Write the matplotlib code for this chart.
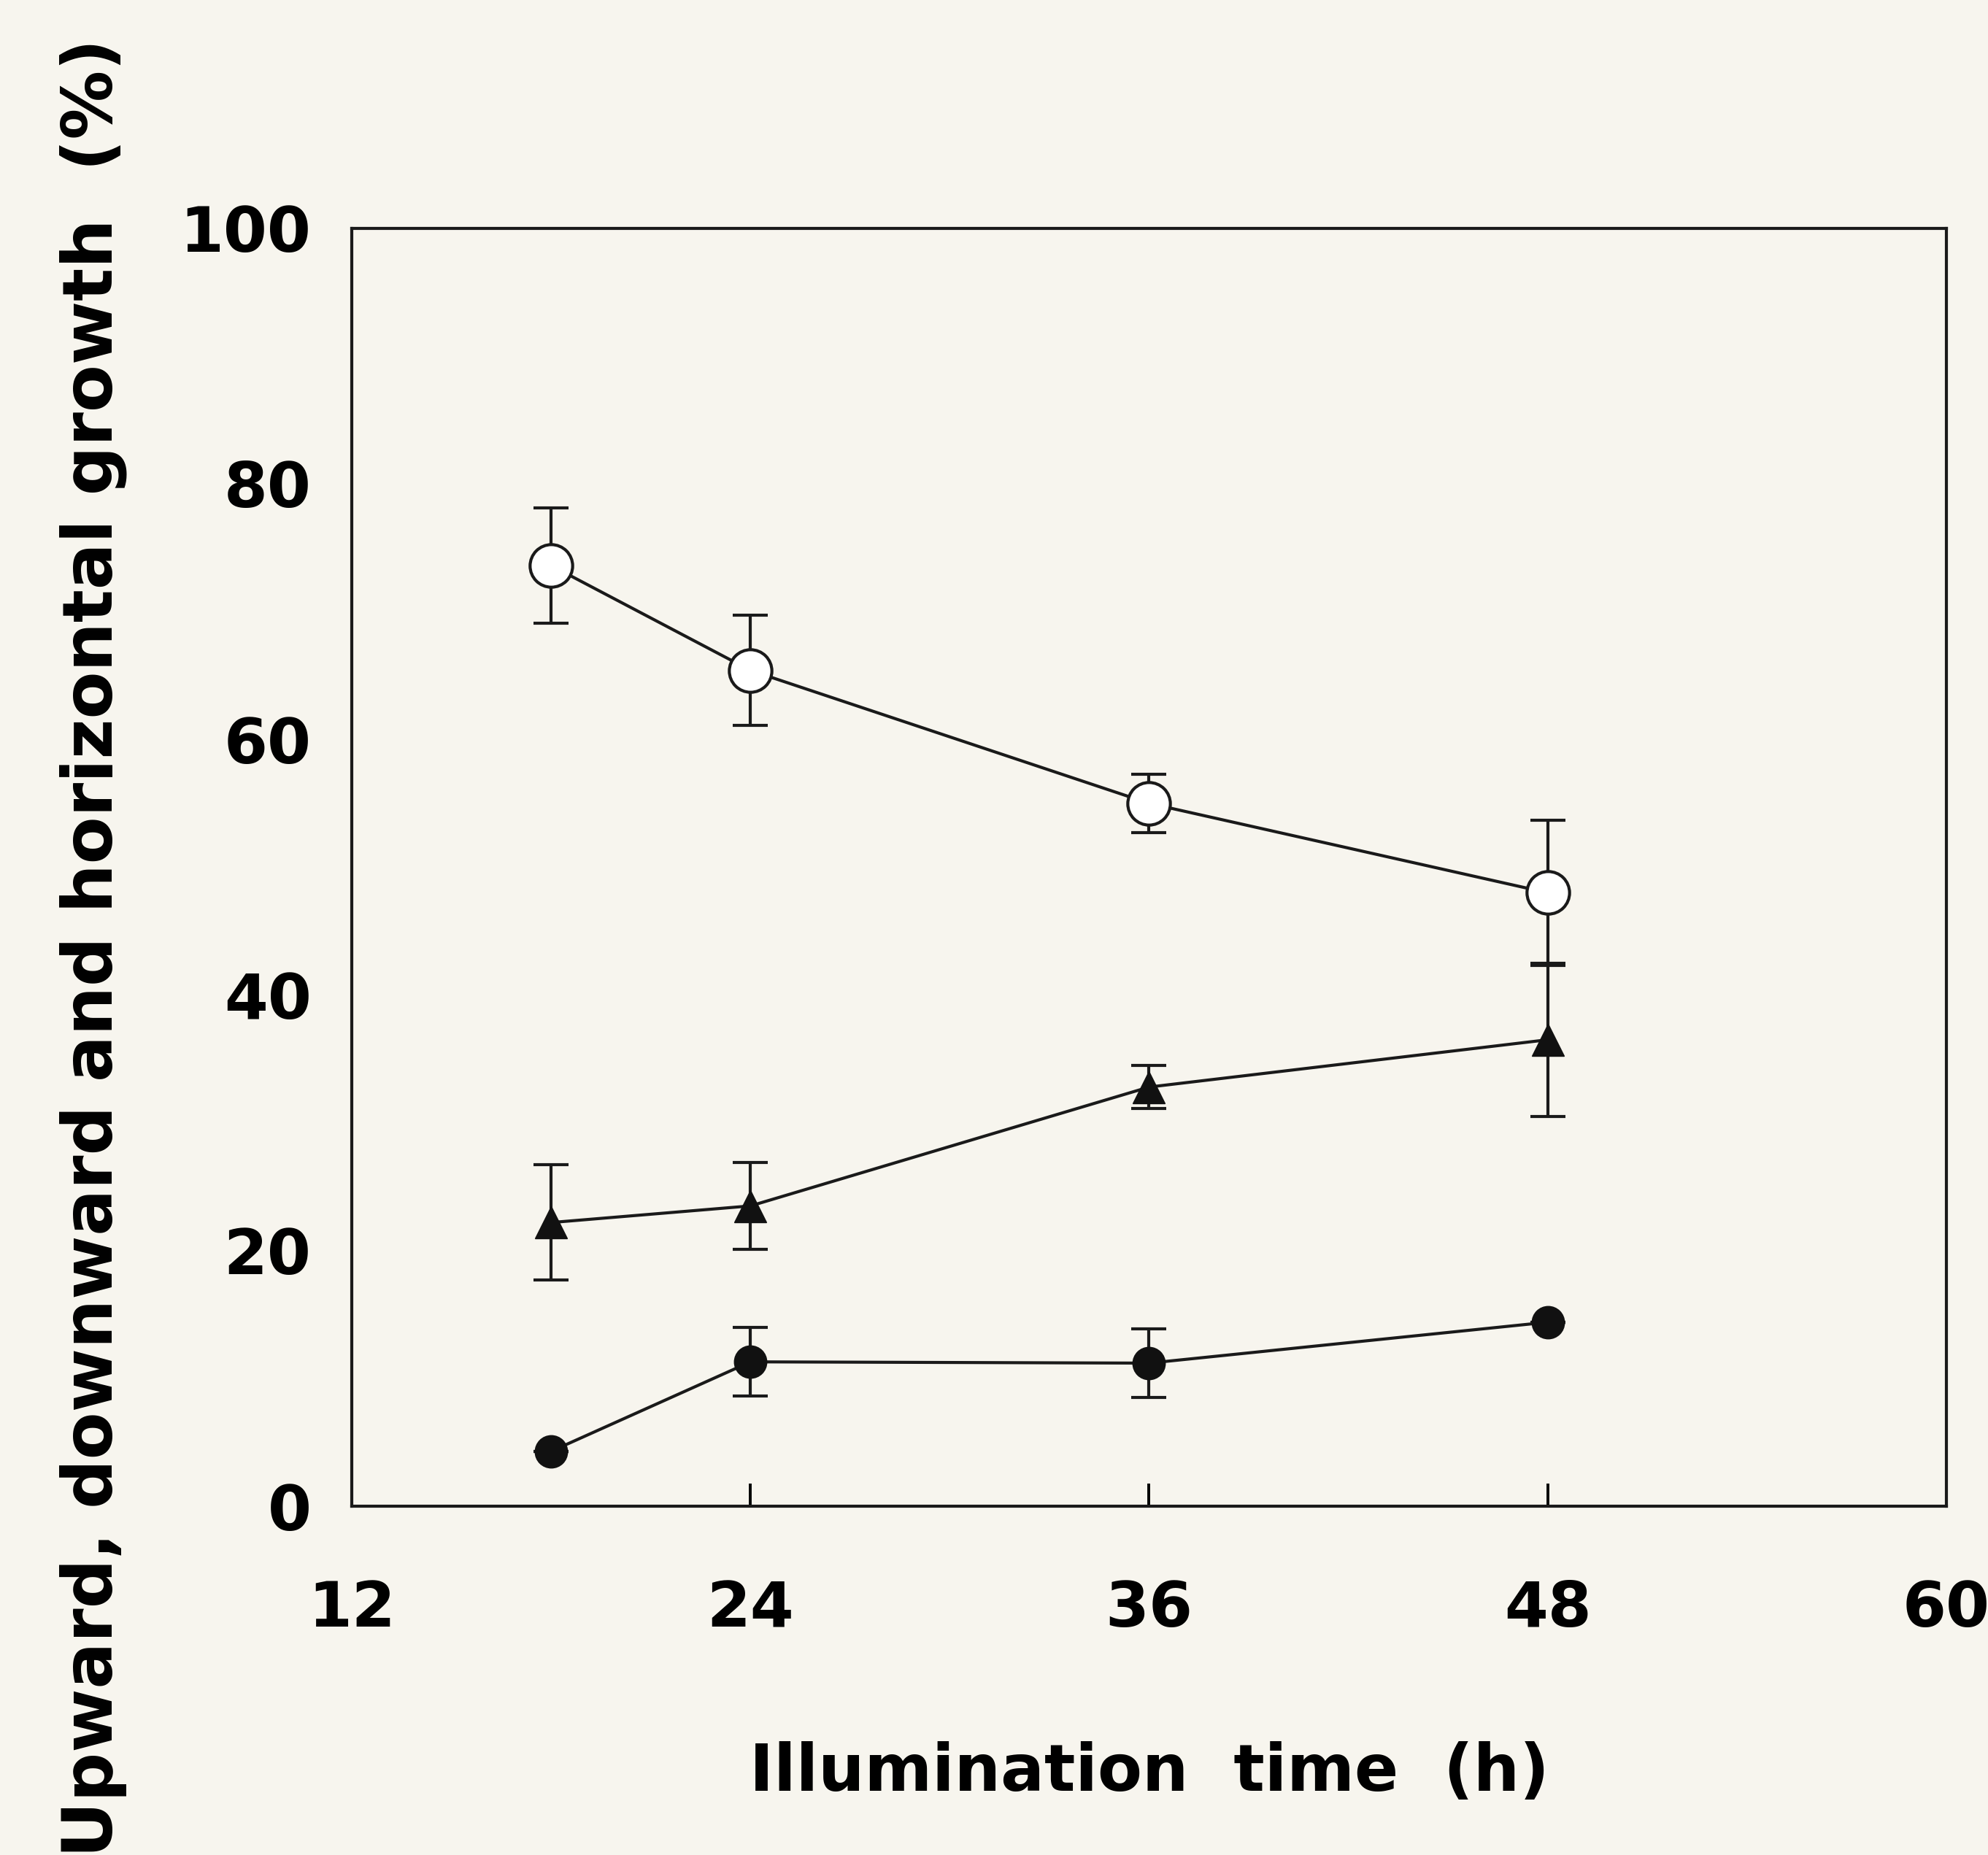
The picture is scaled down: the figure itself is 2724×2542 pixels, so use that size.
import matplotlib
matplotlib.use("Agg")
import matplotlib.pyplot as plt

time_h = [18, 24, 36, 48]
open_circle = [73.6, 65.4, 55.0, 48.0]
open_circle_err = [4.5, 4.3, 2.3, 5.7]
triangle = [22.2, 23.5, 32.8, 36.5]
triangle_err = [4.5, 3.4, 1.7, 6.0]
filled_circle = [4.3, 11.3, 11.2, 14.4]
filled_circle_err = [0.0, 2.7, 2.7, 0.0]

xticks = [12, 24, 36, 48, 60]
yticks = [0, 20, 40, 60, 80, 100]

bg = '#f7f5ee'
plt.rcParams['font.family'] = ['DejaVu Sans']
plt.rcParams['font.weight'] = 'bold'

fig = plt.figure(figsize=(27.24, 25.42), dpi=100, facecolor=bg)
ax = fig.add_axes([0.177, 0.188, 0.802, 0.689], facecolor=bg)

common = dict(color='#1a1a1a', linewidth=3.0, elinewidth=3.0, capsize=17, capthick=3.0)
ax.errorbar(time_h, open_circle, yerr=open_circle_err, marker='o', markersize=42,
            markerfacecolor='white', markeredgecolor='#1a1a1a', markeredgewidth=3.0, **common)
ax.errorbar(time_h, triangle, yerr=triangle_err, marker='^', markersize=32,
            markerfacecolor='#111111', markeredgecolor='#111111', **common)
ax.errorbar(time_h, filled_circle, yerr=filled_circle_err, marker='o', markersize=32,
            markerfacecolor='#111111', markeredgecolor='#111111', **common)

ax.set_xlim(12, 60)
ax.set_ylim(0, 100)
ax.set_xticks(xticks)
ax.set_yticks(yticks)
ax.tick_params(axis='x', direction='in', length=22, width=2.8, pad=72, labelsize=62)
ax.tick_params(axis='y', length=0, pad=40, labelsize=62)
for s in ax.spines.values():
    s.set_linewidth(3.0)
    s.set_color('#1a1a1a')

ax.set_xlabel('Illumination  time  (h)', fontsize=64, fontweight='bold', labelpad=100)
ax.set_ylabel('Upward, downward and horizontal growth  (%)', fontsize=68, fontweight='bold')
ax.yaxis.set_label_coords(-0.141, 0.437)

fig.savefig('out.png', dpi=100, facecolor=bg)
